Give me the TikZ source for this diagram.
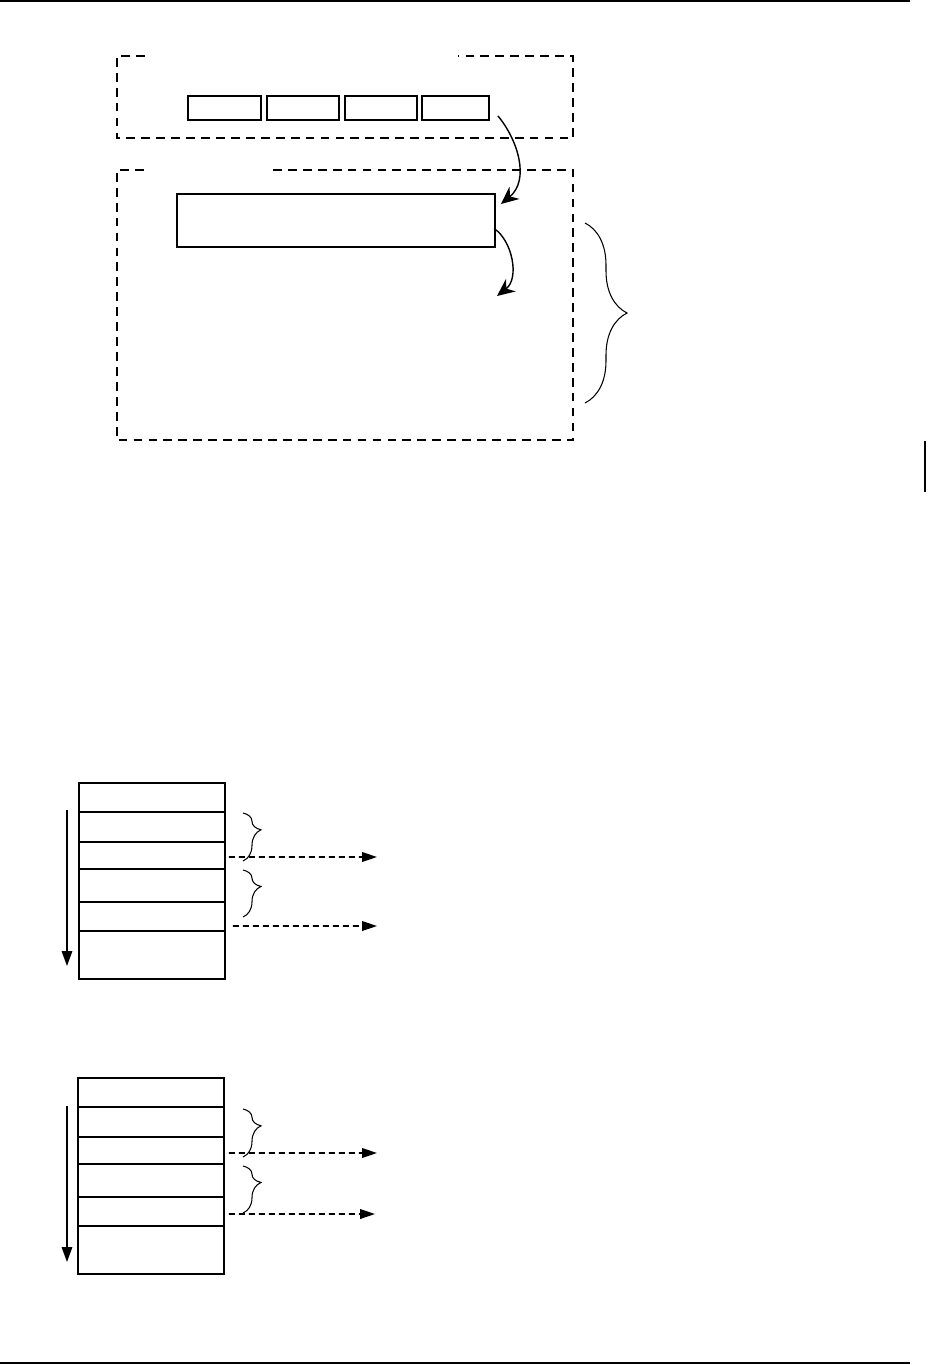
\documentclass[tikz,border=0pt]{standalone}
\usetikzlibrary{arrows.meta,calc,decorations.pathreplacing}
\tikzset{
  frame/.style={line width=1.1pt,dash pattern=on 5pt off 3.5pt},
  slot/.style={draw,line width=1.1pt,inner sep=0pt},
  cell/.style={draw,line width=0.9pt,inner sep=0pt,minimum width=2.92cm},
  bendarrow/.style={line width=0.8pt,-{Stealth[length=10pt,width=9pt]}},
  downarrow/.style={line width=0.9pt,-{Triangle[length=8.5pt,width=6pt]}},
  outarrow/.style={line width=0.9pt,dash pattern=on 3.4pt off 2.3pt,-{Triangle[length=8.5pt,width=5.5pt]}},
  curly/.style={line width=0.6pt,decorate,decoration={brace,amplitude=#1,aspect=0.35}}
}
\begin{document}
\begin{tikzpicture}[x=0.02cm,y=-0.02cm]
    \useasboundingbox (0,0) rectangle (927,1365);
    \draw[line width=1.1pt] (0,1) -- (910,1);
    \draw[line width=1.1pt] (0,1363) -- (910,1363);
    \draw[line width=1.3pt] (925,441) -- (925,492);

    \draw[frame] (145,56) -- (117,56) -- (117,138) -- (573,138) -- (573,56) -- (458,56);
    \foreach \i/\cx/\w in {1/224.5/1.46,2/303/1.44,3/381/1.44,4/455.5/1.34} {
        \node[slot,minimum width=\w cm,minimum height=0.48cm] (b\i) at (\cx,108) {};
    }
    \draw[frame] (144,170) -- (117,170) -- (117,440) -- (573,440) -- (573,170) -- (271,170);
    \node[slot,minimum width=6.36cm,minimum height=1.06cm] (big) at (336,220.5) {};
    \coordinate (nxt) at (497,296);
    \draw[bendarrow] (b4.south east) ++(8,-5) .. controls (518,140) and (530,180) .. ($(big.north east)+(5,11)$);
    \draw[bendarrow] (big.east) ++(-2,8) .. controls (512,240) and (520,278) .. (nxt);
    \coordinate (bt) at (585,223);
    \coordinate (bb) at (585,403);
    \draw[curly=0.84cm,decoration={aspect=0.5}] (bt) -- (bb);

    \foreach \t/\x/\y in {a/152/0,b/151/295} {
        \foreach \r/\p/\q in {1/783/812,2/812/842,3/842/869,4/869/902,5/902/931,6/931/979} {
            \node[cell,minimum height={(\q-\p)*0.02cm}] (t\t\r) at (\x,{(\p+\q)/2+\y}) {};
        }
    }
    \coordinate (sa) at (67,810);
    \coordinate (ea) at (67,966);
    \draw[downarrow] (sa) -- (ea);
    \coordinate (sb) at (67,1106);
    \coordinate (eb) at (67,1262);
    \draw[downarrow] (sb) -- (eb);

    \coordinate (oa1) at (377,857);
    \coordinate (oa2) at (377,926);
    \draw[outarrow] (ta3.east) ++(3,1.5) -- (oa1);
    \draw[outarrow] (ta5.east) ++(7,9.5) -- (oa2);
    \coordinate (ob1) at (377,1153);
    \coordinate (ob2) at (375,1214);
    \draw[outarrow] (tb3.east) ++(4,2.5) -- (ob1);
    \draw[outarrow] (tb5.east) ++(4,2.5) -- (ob2);

    \foreach \u/\v in {813/861,870/917,1109/1157,1166/1213} {
        \draw[curly=0.36cm] (243,\u) -- (243,\v);
    }
\end{tikzpicture}
\end{document}
